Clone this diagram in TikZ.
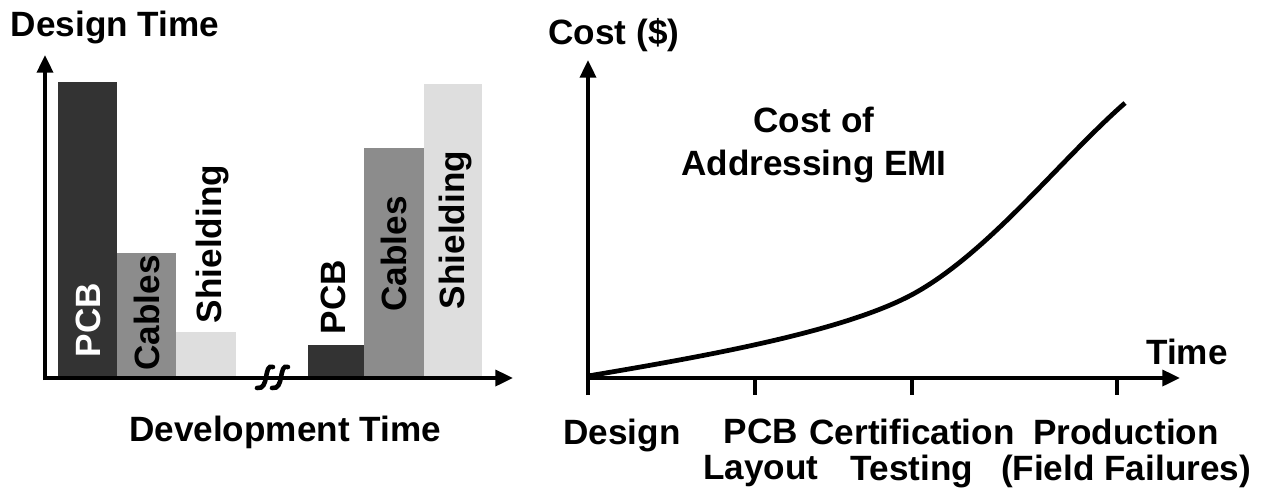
\documentclass[tikz,border=0pt]{standalone}
\usepackage{fontspec}
\setmainfont{Liberation Sans}
\usetikzlibrary{arrows.meta}
\tikzset{
    axisstyle/.style={line width=2.2pt, -{Triangle[length=10pt, width=9pt]}},
    tickstyle/.style={line width=2.2pt},
    breakstyle/.style={line width=2.6pt, line cap=round},
    labelstyle/.style={font=\fontsize{20}{23}\selectfont\bfseries, inner sep=0pt, align=center},
    ticklabel/.style={font=\fontsize{20}{20.5}\selectfont\bfseries, inner sep=0pt, align=center, anchor=north},
    barlabel/.style={labelstyle, rotate=90},
    pcbbar/.style={fill=black!80},
    cablebar/.style={fill=black!45},
    shieldbar/.style={fill=black!13},
    costcurve/.style={line width=2.7pt}
}

\begin{document}
\begin{tikzpicture}[x=0.02cm, y=-0.02cm]

        \useasboundingbox (0,0) rectangle (1262,491);

        % ================= LEFT: design time per stage =================
        \begin{scope}
            % bars, early stage
            \fill[pcbbar] (58,82) rectangle (117,378);
            \fill[cablebar] (117,253) rectangle (176,378);
            \fill[shieldbar] (176,332) rectangle (236,378);

            % bars, late stage
            \fill[pcbbar] (308,345) rectangle (364,378);
            \fill[cablebar] (364,148) rectangle (424,378);
            \fill[shieldbar] (424,84) rectangle (482,378);

            \node[barlabel, white] (pcbA) at (88,320) {PCB};
            \node[barlabel] (cablesA) at (147,313) {Cables};
            \node[barlabel] (shieldA) at (212,244) {Shielding};

            \node[barlabel] (pcbB) at (333,297) {PCB};
            \node[barlabel] (cablesB) at (394,254) {Cables};
            \node[barlabel] (shieldB) at (455,230) {Shielding};

            % axes
            \coordinate (lorigin) at (45,380);
            \coordinate (ltop) at (45,55);
            \coordinate (lcorner) at (44,378);
            \coordinate (lend) at (513,378);
            \draw[axisstyle] (lorigin) -- (ltop);
            \draw[axisstyle] (lcorner) -- (lend);

            % axis break
            \draw[breakstyle] (273,367) .. controls (263,363) and (270,390) .. (257,388);
            \draw[breakstyle] (288,367) .. controls (278,363) and (285,390) .. (272,388);

            \node[labelstyle] (ylabelA) at (115,27) {Design Time};
            \node[labelstyle] (xlabelA) at (285,432) {Development Time};
        \end{scope}

        % ================= RIGHT: cost of addressing EMI =================
        \begin{scope}
            \coordinate (rorigin) at (588,395);
            \coordinate (rtop) at (588,60);
            \coordinate (rcorner) at (587,378);
            \coordinate (rend) at (1180,378);
            \draw[axisstyle] (rorigin) -- (rtop);
            \draw[axisstyle] (rcorner) -- (rend);

            % ticks
            \foreach \tx in {755,912,1117}
                \draw[tickstyle] (\tx,378) -- (\tx,395);

            % cost curve
            \draw[costcurve] (588,376) .. controls (700,357) and (845,332) .. (915,293)
                .. controls (990,251) and (1060,160) .. (1125,103);

            \node[labelstyle] (ylabelB) at (614,35) {Cost (\$)};
            \node[labelstyle] (xlabelB) at (1187,352) {Time};
            \node[labelstyle] (curvelabel) at (814,145) {Cost of\\[1pt] Addressing EMI};

            \node[ticklabel] (design) at (622,419) {Design};
            \node[ticklabel] (layout) at (761,419) {PCB\\Layout};
            \node[ticklabel] (testing) at (912,419) {Certification\\Testing};
            \node[ticklabel] (production) at (1126,419) {Production\\(Field Failures)};
        \end{scope}

\end{tikzpicture}
\end{document}
